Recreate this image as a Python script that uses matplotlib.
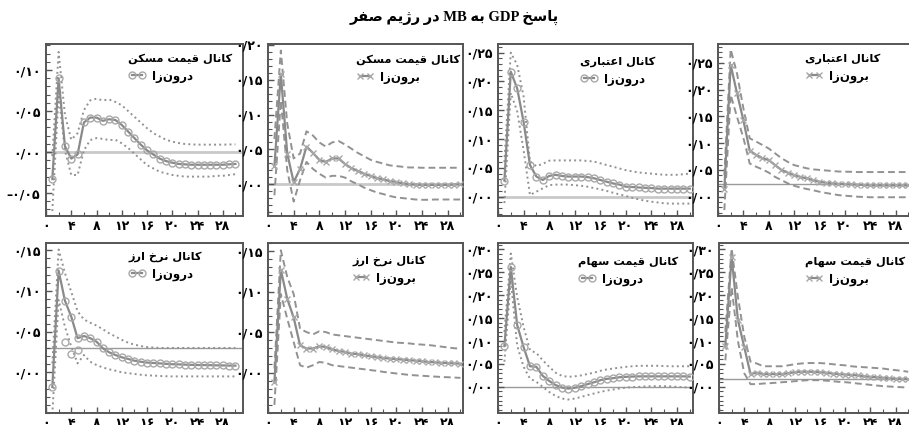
import matplotlib
matplotlib.use("Agg")
import matplotlib.pyplot as plt
from matplotlib.ticker import MultipleLocator, FixedLocator, FuncFormatter
import numpy as np

# ---------------------------------------------------------------
# Persian text helpers (matplotlib has no Arabic shaping / bidi)
# ---------------------------------------------------------------
FORMS = {  # isolated, final, initial, medial
    'ا': ('\uFE8D', '\uFE8E', None, None),
    'آ': ('\uFE81', '\uFE82', None, None),
    'ب': ('\uFE8F', '\uFE90', '\uFE91', '\uFE92'),
    'پ': ('\uFB56', '\uFB57', '\uFB58', '\uFB59'),
    'ت': ('\uFE95', '\uFE96', '\uFE97', '\uFE98'),
    'ث': ('\uFE99', '\uFE9A', '\uFE9B', '\uFE9C'),
    'ج': ('\uFE9D', '\uFE9E', '\uFE9F', '\uFEA0'),
    'چ': ('\uFB7A', '\uFB7B', '\uFB7C', '\uFB7D'),
    'ح': ('\uFEA1', '\uFEA2', '\uFEA3', '\uFEA4'),
    'خ': ('\uFEA5', '\uFEA6', '\uFEA7', '\uFEA8'),
    'د': ('\uFEA9', '\uFEAA', None, None),
    'ذ': ('\uFEAB', '\uFEAC', None, None),
    'ر': ('\uFEAD', '\uFEAE', None, None),
    'ز': ('\uFEAF', '\uFEB0', None, None),
    'ژ': ('\uFB8A', '\uFB8B', None, None),
    'س': ('\uFEB1', '\uFEB2', '\uFEB3', '\uFEB4'),
    'ش': ('\uFEB5', '\uFEB6', '\uFEB7', '\uFEB8'),
    'ص': ('\uFEB9', '\uFEBA', '\uFEBB', '\uFEBC'),
    'ض': ('\uFEBD', '\uFEBE', '\uFEBF', '\uFEC0'),
    'ط': ('\uFEC1', '\uFEC2', '\uFEC3', '\uFEC4'),
    'ظ': ('\uFEC5', '\uFEC6', '\uFEC7', '\uFEC8'),
    'ع': ('\uFEC9', '\uFECA', '\uFECB', '\uFECC'),
    'غ': ('\uFECD', '\uFECE', '\uFECF', '\uFED0'),
    'ف': ('\uFED1', '\uFED2', '\uFED3', '\uFED4'),
    'ق': ('\uFED5', '\uFED6', '\uFED7', '\uFED8'),
    'ک': ('\uFB8E', '\uFB8F', '\uFB90', '\uFB91'),
    'گ': ('\uFB92', '\uFB93', '\uFB94', '\uFB95'),
    'ل': ('\uFEDD', '\uFEDE', '\uFEDF', '\uFEE0'),
    'م': ('\uFEE1', '\uFEE2', '\uFEE3', '\uFEE4'),
    'ن': ('\uFEE5', '\uFEE6', '\uFEE7', '\uFEE8'),
    'ه': ('\uFEE9', '\uFEEA', '\uFEEB', '\uFEEC'),
    'و': ('\uFEED', '\uFEEE', None, None),
    'ی': ('\uFBFC', '\uFBFD', '\uFBFE', '\uFBFF'),
}


def _shape_word(word):
    chars = list(word)
    res = []
    for i, c in enumerate(chars):
        if c not in FORMS:
            if c != '\u200c':
                res.append(c)
            continue
        prev = chars[i - 1] if i > 0 else None
        nxt = chars[i + 1] if i + 1 < len(chars) else None
        join_prev = prev in FORMS and FORMS[prev][2] is not None
        join_next = FORMS[c][2] is not None and nxt in FORMS
        iso, fin, ini, med = FORMS[c]
        if join_prev and join_next:
            res.append(med)
        elif join_prev:
            res.append(fin)
        elif join_next:
            res.append(ini)
        else:
            res.append(iso)
    return ''.join(reversed(res))


def fa(text):
    words = text.split(' ')
    out = [_shape_word(w) if any(ch in FORMS for ch in w) else w for w in words]
    return ' '.join(reversed(out))


FA_DIGITS = str.maketrans('0123456789', '۰۱۲۳۴۵۶۷۸۹')


def fa_num(v, decimals):
    s = f"{abs(v):.{decimals}f}".replace('.', '/').translate(FA_DIGITS)
    return ('–' + s) if v < -1e-9 else s


# ---------------------------------------------------------------
# Impulse responses of GDP to a monetary base shock (periods 1..30)
# ---------------------------------------------------------------
periods = np.arange(1, 31)

house_endo_irf = [-0.033, 0.090, 0.007, -0.008, -0.003, 0.036, 0.042, 0.042, 0.038, 0.040,
                  0.039, 0.033, 0.025, 0.017, 0.009, 0.002, -0.003, -0.008, -0.011, -0.013,
                  -0.0145, -0.015, -0.0155, -0.0155, -0.0155, -0.0155, -0.0155, -0.0155, -0.015, -0.0145]
house_endo_hi = [-0.005, 0.122, 0.045, 0.015, 0.023, 0.051, 0.063, 0.065, 0.063, 0.064,
                 0.061, 0.057, 0.050, 0.043, 0.036, 0.029, 0.023, 0.019, 0.015, 0.0126,
                 0.011, 0.0098, 0.0093, 0.009, 0.009, 0.009, 0.009, 0.009, 0.0092, 0.0094]
house_endo_lo = [-0.072, 0.070, 0.002, -0.028, -0.028, 0.002, 0.0146, 0.017, 0.016, 0.0146,
                 0.015, 0.0106, 0.005, -0.002, -0.009, -0.016, -0.020, -0.024, -0.026, -0.028,
                 -0.029, -0.030, -0.030, -0.030, -0.030, -0.030, -0.029, -0.029, -0.028, -0.027]

house_exo_irf = [0.026, 0.158, 0.044, 0.003, 0.022, 0.054, 0.045, 0.035, 0.032, 0.037,
                 0.037, 0.029, 0.023, 0.019, 0.015, 0.012, 0.0086, 0.007, 0.0043, 0.0033,
                 0.001, 0.0, -0.0005, -0.001, -0.001, -0.001, -0.001, -0.001, -0.0005, 0.0]
house_exo_hi = [0.065, 0.192, 0.087, 0.037, 0.044, 0.076, 0.070, 0.060, 0.054, 0.060,
                0.062, 0.057, 0.051, 0.045, 0.040, 0.035, 0.032, 0.0295, 0.027, 0.026,
                0.025, 0.024, 0.024, 0.0236, 0.0236, 0.0236, 0.0236, 0.0236, 0.0236, 0.0236]
house_exo_lo = [-0.016, 0.120, 0.020, -0.025, 0.006, 0.032, 0.022, 0.015, 0.0095, 0.012,
                0.012, 0.0095, 0.004, 0.0, -0.005, -0.0086, -0.012, -0.0143, -0.017, -0.019,
                -0.020, -0.021, -0.022, -0.0224, -0.0224, -0.022, -0.022, -0.022, -0.022, -0.022]

credit_endo_irf = [0.028, 0.217, 0.188, 0.130, 0.055, 0.035, 0.029, 0.036, 0.038, 0.036,
                   0.035, 0.035, 0.035, 0.034, 0.032, 0.029, 0.026, 0.023, 0.021, 0.0174,
                   0.0168, 0.016, 0.0154, 0.015, 0.014, 0.014, 0.014, 0.014, 0.014, 0.014]
credit_endo_hi = [0.060, 0.250, 0.229, 0.174, 0.061, 0.053, 0.057, 0.0625, 0.063, 0.063,
                  0.063, 0.063, 0.063, 0.062, 0.061, 0.058, 0.055, 0.052, 0.049, 0.046,
                  0.044, 0.042, 0.041, 0.040, 0.039, 0.038, 0.038, 0.038, 0.039, 0.040]
credit_endo_lo = [-0.011, 0.180, 0.148, 0.081, 0.003, 0.0087, 0.0145, 0.020, 0.021, 0.021,
                  0.021, 0.020, 0.019, 0.0174, 0.015, 0.0128, 0.010, 0.0069, 0.004, 0.0012,
                  -0.002, -0.0046, -0.007, -0.0087, -0.010, -0.0115, -0.012, -0.012, -0.012, -0.012]

credit_exo_irf = [0.014, 0.246, 0.193, 0.143, 0.086, 0.078, 0.072, 0.0685, 0.059, 0.050,
                  0.045, 0.0405, 0.037, 0.034, 0.031, 0.028, 0.026, 0.025, 0.024, 0.0235,
                  0.023, 0.0225, 0.022, 0.021, 0.021, 0.021, 0.021, 0.021, 0.021, 0.021]
credit_exo_hi = [0.040, 0.275, 0.230, 0.165, 0.109, 0.103, 0.0965, 0.090, 0.081, 0.072,
                 0.065, 0.059, 0.056, 0.053, 0.051, 0.050, 0.049, 0.048, 0.047, 0.0467,
                 0.0465, 0.046, 0.046, 0.046, 0.046, 0.046, 0.046, 0.046, 0.046, 0.046]
credit_exo_lo = [-0.025, 0.190, 0.149, 0.110, 0.062, 0.056, 0.051, 0.045, 0.037, 0.031,
                 0.025, 0.0205, 0.017, 0.0144, 0.012, 0.0093, 0.007, 0.005, 0.003, 0.0019,
                 0.001, 0.0, -0.0005, -0.001, -0.001, -0.001, -0.001, -0.001, -0.001, -0.001]

fx_endo_irf = [-0.018, 0.125, 0.088, 0.0685, 0.042, 0.0447, 0.042, 0.0377, 0.0296, 0.0246,
               0.0213, 0.0185, 0.0165, 0.0143, 0.013, 0.012, 0.0115, 0.011, 0.0105, 0.010,
               0.0098, 0.0095, 0.0092, 0.009, 0.009, 0.0088, 0.0086, 0.0085, 0.0083, 0.0082]
fx_endo_hi = [0.011, 0.151, 0.122, 0.099, 0.075, 0.065, 0.061, 0.0575, 0.053, 0.048,
              0.044, 0.040, 0.0365, 0.034, 0.0324, 0.031, 0.0305, 0.030, 0.030, 0.030,
              0.030, 0.030, 0.030, 0.030, 0.030, 0.030, 0.030, 0.030, 0.030, 0.030]
fx_endo_lo = [-0.052, 0.089, 0.056, 0.0316, 0.011, 0.0213, 0.013, 0.009, 0.006, 0.0037,
              0.002, 0.0, -0.001, -0.002, -0.003, -0.0037, -0.004, -0.0045, -0.0048, -0.005,
              -0.005, -0.005, -0.005, -0.005, -0.005, -0.005, -0.005, -0.005, -0.005, -0.005]
fx_endo_extra_t = [3, 4, 5]
fx_endo_extra_v = [0.0377, 0.0225, 0.0275]

fx_exo_irf = [-0.0116, 0.127, 0.091, 0.068, 0.0336, 0.0296, 0.0296, 0.0324, 0.0316, 0.0287,
              0.0266, 0.0255, 0.0234, 0.0228, 0.0213, 0.020, 0.0192, 0.018, 0.0172, 0.0166,
              0.016, 0.0153, 0.0147, 0.014, 0.013, 0.0127, 0.012, 0.0117, 0.0113, 0.011]
fx_exo_hi = [0.005, 0.151, 0.118, 0.097, 0.054, 0.050, 0.047, 0.051, 0.050, 0.047,
             0.046, 0.045, 0.044, 0.043, 0.042, 0.041, 0.040, 0.039, 0.038, 0.037,
             0.0365, 0.036, 0.035, 0.0345, 0.034, 0.033, 0.032, 0.031, 0.030, 0.0296]
fx_exo_lo = [-0.040, 0.097, 0.0665, 0.0377, 0.009, 0.006, 0.009, 0.013, 0.012, 0.009,
             0.008, 0.007, 0.006, 0.005, 0.004, 0.003, 0.002, 0.0008, -0.0002, -0.0012,
             -0.002, -0.003, -0.0035, -0.004, -0.0045, -0.005, -0.0055, -0.0058, -0.0062, -0.0066]

stock_endo_irf = [0.089, 0.262, 0.135, 0.087, 0.045, 0.044, 0.024, 0.013, 0.004, -0.0015,
                  -0.0037, -0.002, 0.0015, 0.006, 0.010, 0.0146, 0.0175, 0.019, 0.021, 0.022,
                  0.0225, 0.023, 0.023, 0.023, 0.023, 0.023, 0.023, 0.023, 0.023, 0.0225]
stock_endo_hi = [0.120, 0.291, 0.196, 0.131, 0.080, 0.074, 0.058, 0.044, 0.031, 0.024,
                 0.022, 0.023, 0.025, 0.028, 0.031, 0.035, 0.038, 0.040, 0.042, 0.0437,
                 0.045, 0.046, 0.046, 0.046, 0.046, 0.0455, 0.045, 0.045, 0.045, 0.045]
stock_endo_lo = [0.055, 0.233, 0.090, 0.044, 0.018, 0.011, 0.0, -0.011, -0.0196, -0.0255,
                 -0.0276, -0.0255, -0.022, -0.018, -0.0145, -0.011, -0.008, -0.0058, -0.0035, -0.0015,
                 -0.0005, 0.0, 0.001, 0.0015, 0.0015, 0.0015, 0.001, 0.0, -0.0008, -0.0015]

stock_exo_irf = [0.089, 0.284, 0.146, 0.087, 0.028, 0.031, 0.028, 0.028, 0.028, 0.028,
                 0.030, 0.032, 0.033, 0.033, 0.033, 0.032, 0.031, 0.029, 0.028, 0.027,
                 0.026, 0.025, 0.023, 0.022, 0.021, 0.020, 0.019, 0.018, 0.0175, 0.017]
stock_exo_hi = [0.120, 0.302, 0.196, 0.110, 0.055, 0.051, 0.045, 0.045, 0.045, 0.045,
                0.047, 0.0495, 0.051, 0.052, 0.052, 0.052, 0.051, 0.0495, 0.048, 0.047,
                0.045, 0.0437, 0.043, 0.042, 0.041, 0.040, 0.038, 0.0365, 0.035, 0.033]
stock_exo_lo = [0.058, 0.218, 0.100, 0.030, 0.006, 0.006, 0.0073, 0.008, 0.009, 0.0102,
                0.011, 0.0124, 0.0135, 0.0146, 0.0146, 0.0146, 0.0135, 0.0124, 0.011, 0.0102,
                0.009, 0.0073, 0.006, 0.0044, 0.003, 0.0015, 0.0008, 0.0, -0.0008, -0.0015]

channel_names = ['کانال قیمت مسکن', 'کانال قیمت مسکن', 'کانال اعتباری', 'کانال اعتباری',
                 'کانال نرخ ارز', 'کانال نرخ ارز', 'کانال قیمت سهام', 'کانال قیمت سهام']
scenario_names = ['درون‌زا', 'برون‌زا']  # endogenous / exogenous
reference_levels = [0.0, 0.0, 0.0, 0.0237, 0.030, None, 0.0, 0.0168]
title_text = 'پاسخ GDP به MB در رژیم صفر'

y_tick_values = [
    [-0.05, 0.0, 0.05, 0.10],
    [0.0, 0.05, 0.10, 0.15, 0.20],
    [0.0, 0.05, 0.10, 0.15, 0.20, 0.25],
    [0.0, 0.05, 0.10, 0.15, 0.20, 0.25],
    [0.0, 0.05, 0.10, 0.15],
    [0.0, 0.05, 0.10, 0.15],
    [0.0, 0.05, 0.10, 0.15, 0.20, 0.25, 0.30],
    [0.0, 0.05, 0.10, 0.15, 0.20, 0.25, 0.30],
]

series = [
    (house_endo_irf, house_endo_hi, house_endo_lo),
    (house_exo_irf, house_exo_hi, house_exo_lo),
    (credit_endo_irf, credit_endo_hi, credit_endo_lo),
    (credit_exo_irf, credit_exo_hi, credit_exo_lo),
    (fx_endo_irf, fx_endo_hi, fx_endo_lo),
    (fx_exo_irf, fx_exo_hi, fx_exo_lo),
    (stock_endo_irf, stock_endo_hi, stock_endo_lo),
    (stock_exo_irf, stock_exo_hi, stock_exo_lo),
]

# ---------------------------------------------------------------
# Layout (pixel boxes: left, top, right, bottom) and axis ranges
# ---------------------------------------------------------------
W, H = 909, 425
boxes = [(46, 44, 243, 216), (268, 44, 463, 216), (498, 44, 693, 216), (718, 44, 912, 216),
         (46, 243, 243, 413), (268, 243, 463, 413), (498, 243, 693, 413), (719, 243, 912, 413)]
xmax = [31.2, 30.4, 30.5, 30.6, 31.2, 30.4, 30.5, 30.6]
ylims = [(-0.078, 0.1317), (-0.0457, 0.2014), (-0.0335, 0.265), (-0.036, 0.285),
         (-0.050, 0.159), (-0.050, 0.160), (-0.057, 0.314), (-0.057, 0.314)]
legend_anchor = [(128, 53), (356, 54), (580, 56), (805, 53),
                 (128, 251), (352, 255), (578, 256), (805, 256)]
ref_styles = ['light', 'light', 'light', 'thin', 'thin', None, 'thin', 'thin']

FONT = 'DejaVu Sans'
TITLE_FONT = ['Liberation Serif', 'DejaVu Sans']
frame_c = '#555555'
line_c = '#8a8a8a'
mark_c = '#a8a8a8'
band_c = '#929292'

fig = plt.figure(figsize=(W / 100, H / 100), dpi=100)
fig.patch.set_facecolor('white')

fig.text(0.5, 1 - 17 / H, fa(title_text), ha='center', va='center',
         fontsize=10.5, fontweight='bold', family=TITLE_FONT)

for k in range(8):
    l, t, r, b = boxes[k]
    ax = fig.add_axes([l / W, 1 - b / H, (r - l) / W, (b - t) / H])
    irf, hi, lo = series[k]
    endo = (k % 2 == 0)

    ref = reference_levels[k]
    if ref is not None:
        if ref_styles[k] == 'light':
            ax.axhline(ref, color='#c9c9c9', lw=2.0, zorder=1)
        else:
            ax.axhline(ref, color='#9a9a9a', lw=1.0, zorder=1)

    band_ls = ':' if endo else (0, (3.5, 2))
    ax.plot(periods, hi, color=band_c, lw=1.4, ls=band_ls, zorder=2)
    ax.plot(periods, lo, color=band_c, lw=1.4, ls=band_ls, zorder=2)

    if endo:
        h, = ax.plot(periods, irf, color=line_c, lw=1.6, marker='o', ms=5,
                     mfc='none', mec=mark_c, mew=1.0, zorder=3,
                     label=fa(scenario_names[0]))
    else:
        h, = ax.plot(periods, irf, color=line_c, lw=1.6, marker='x', ms=5,
                     mec=mark_c, mew=1.0, zorder=3, label=fa(scenario_names[1]))

    if k == 4:
        ax.plot(fx_endo_extra_t, fx_endo_extra_v, ls='none', marker='o', ms=5,
                mfc='none', mec=mark_c, mew=1.0, zorder=3)

    ax.set_xlim(0, xmax[k])
    ax.set_ylim(*ylims[k])

    ax.xaxis.set_major_locator(MultipleLocator(4))
    ax.xaxis.set_minor_locator(MultipleLocator(2))
    ax.yaxis.set_major_locator(FixedLocator(y_tick_values[k]))
    ax.yaxis.set_minor_locator(MultipleLocator(0.01))
    ax.xaxis.set_major_formatter(FuncFormatter(lambda v, p: fa_num(v, 0)))
    ax.yaxis.set_major_formatter(FuncFormatter(lambda v, p: fa_num(v, 2)))
    ax.tick_params(which='both', direction='in', color=frame_c, top=False, right=False)
    ax.tick_params(which='major', length=4, width=1.0)
    ax.tick_params(which='minor', length=3, width=0.8)
    ax.tick_params(axis='x', pad=3)
    ax.tick_params(axis='y', pad=4)
    for lab in ax.get_xticklabels() + ax.get_yticklabels():
        lab.set_fontweight('bold')
        lab.set_fontsize(9)
        lab.set_family(FONT)
    for sp in ax.spines.values():
        sp.set_color(frame_c)
        sp.set_linewidth(1.4)

    lx, ly = legend_anchor[k]
    ax.legend(handles=[h], title=fa(channel_names[k]), loc='upper left',
              bbox_to_anchor=(lx / W, 1 - ly / H), bbox_transform=fig.transFigure,
              frameon=False, borderpad=0, borderaxespad=0, numpoints=2,
              handlelength=1.5, handletextpad=0.5, alignment='left',
              prop={'family': FONT, 'weight': 'bold', 'size': 8.5},
              title_fontproperties={'family': FONT, 'weight': 'bold', 'size': 8.2})

fig.savefig('out.png', dpi=100, facecolor='white')
